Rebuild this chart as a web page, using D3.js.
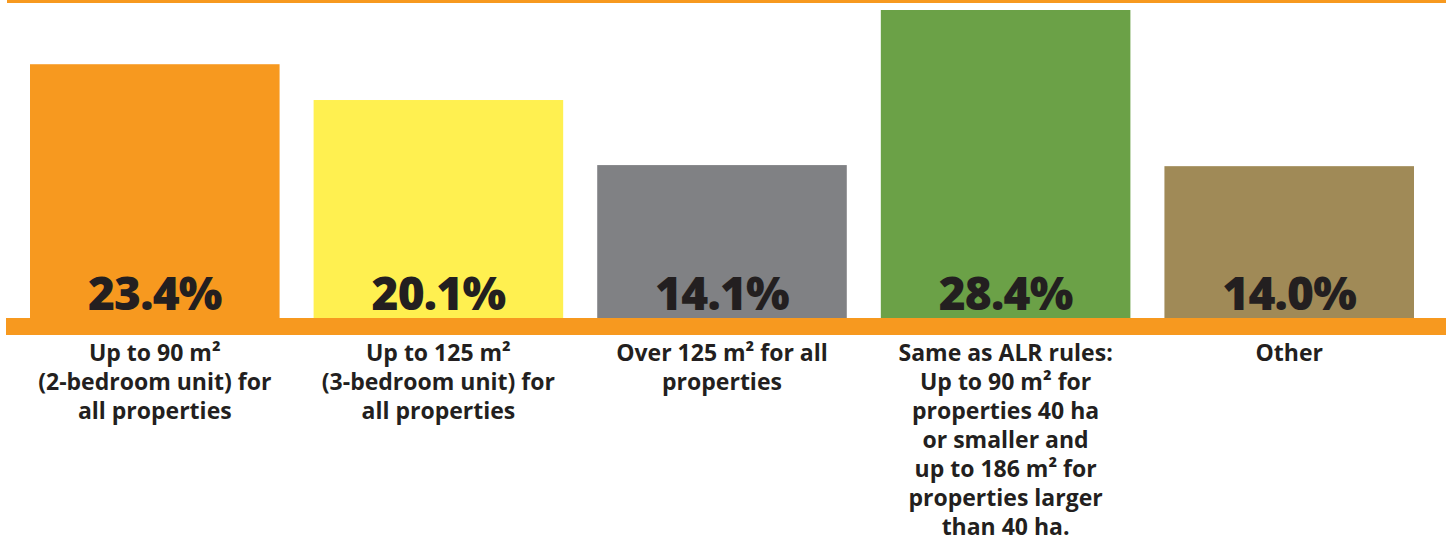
<!DOCTYPE html>
<html>
<head>
<meta charset="utf-8">
<script src="https://cdn.jsdelivr.net/npm/d3@7"></script>
<style>
  html, body { margin: 0; padding: 0; background: #fff; }
  svg { display: block; }
  text { font-family: "Open Sans", "Noto Sans", sans-serif; font-weight: 700; fill: #231f20; }
</style>
</head>
<body>
<svg id="chart" width="1452" height="542"></svg>
<script>
// Share of responses for each size limit option
const categories = ["up90", "up125", "over125", "alr", "other"];
const values = [23.4, 20.1, 14.1, 28.4, 14.0];
const valueLabels = ["23.4%", "20.1%", "14.1%", "28.4%", "14.0%"];
const categoryLabels = [
  ["Up to 90 m²", "(2-bedroom unit) for", "all properties"],
  ["Up to 125 m²", "(3-bedroom unit) for", "all properties"],
  ["Over 125 m² for all", "properties"],
  ["Same as ALR rules:", "Up to 90 m² for", "properties 40 ha", "or smaller and", "up to 186 m² for", "properties larger", "than 40 ha."],
  ["Other"]
];
const colors = ["#f7991f", "#fff050", "#808184", "#6ba147", "#a08a57"];

const svg = d3.select("#chart");
const baseline = 318;

const x = d3.scaleBand()
  .domain(categories)
  .range([30, 1414])
  .paddingInner(0.12)
  .paddingOuter(0);

const y = d3.scaleLinear()
  .domain([0, d3.max(values)])
  .range([baseline, 10]);

// top rule
svg.append("rect")
  .attr("x", 7).attr("y", 0)
  .attr("width", 1439).attr("height", 3)
  .attr("fill", "#f7991f");

// bars
svg.selectAll("rect.bar")
  .data(categories)
  .join("rect")
  .attr("class", "bar")
  .attr("x", d => x(d))
  .attr("y", (d, i) => y(values[i]))
  .attr("width", x.bandwidth())
  .attr("height", (d, i) => baseline - y(values[i]))
  .attr("fill", (d, i) => colors[i]);

// baseline band
svg.append("rect")
  .attr("x", 6).attr("y", baseline)
  .attr("width", 1440).attr("height", 17)
  .attr("fill", "#f7991f");

// value labels inside bars
svg.selectAll("text.value")
  .data(categories)
  .join("text")
  .attr("class", "value")
  .attr("x", d => x(d) + x.bandwidth() / 2)
  .attr("y", baseline - 8)
  .attr("text-anchor", "middle")
  .style("font-size", "46px")
  .style("font-weight", 800)
  .style("letter-spacing", "-0.8px")
  .text((d, i) => valueLabels[i]);

// category labels under the band
const labelGroups = svg.selectAll("text.cat")
  .data(categories)
  .join("text")
  .attr("class", "cat")
  .attr("text-anchor", "middle")
  .style("font-size", "23px");

labelGroups.each(function(d, i) {
  const t = d3.select(this);
  categoryLabels[i].forEach((line, j) => {
    t.append("tspan")
      .attr("x", x(d) + x.bandwidth() / 2)
      .attr("y", 361 + j * 29)
      .text(line);
  });
});
</script>
</body>
</html>
